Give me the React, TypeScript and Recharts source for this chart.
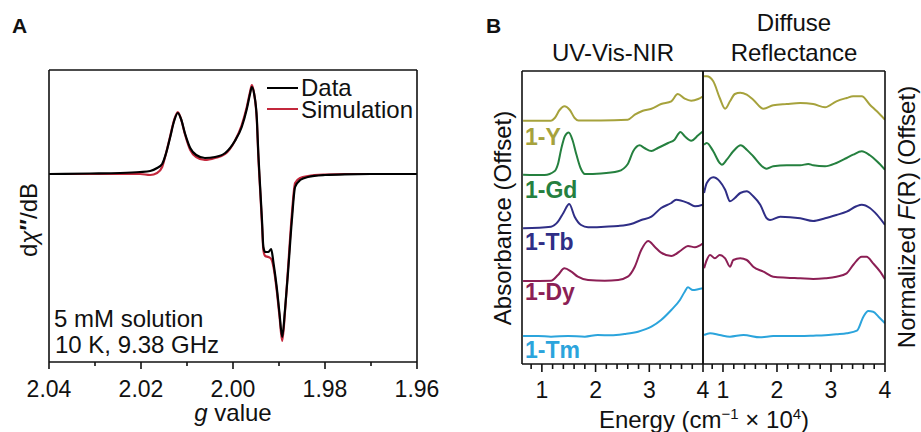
import React from "react";
import { LineChart, Line, XAxis, YAxis, Legend } from "recharts";

const FONT = '"Liberation Sans", Arial, Helvetica, sans-serif';
const INK = "#111";

// ---- panel A: EPR, dχ''/dB vs g value (axis runs 2.04 -> 1.96)
const gValues = [
  2.04, 2.0311, 2.0246, 2.0202, 2.018, 2.0165, 2.0154, 2.0146, 2.0137, 2.0128,
  2.012, 2.0113, 2.0104, 2.0093, 2.008, 2.0061, 2.0039, 2.0017, 1.9996, 1.9981,
  1.997, 1.9963, 1.9959, 1.9954, 1.9948, 1.9945, 1.9941, 1.9937, 1.9934, 1.993,
  1.9923, 1.9917, 1.9912, 1.9905, 1.9899, 1.9893, 1.9887, 1.988, 1.9872, 1.9865,
  1.9854, 1.9837, 1.98, 1.9757, 1.968, 1.96,
];
const eprData = [
  0, 0.5, 1, 2, 3, 6, 10, 20, 36, 53,
  61, 55, 40, 26, 19, 16, 17, 21, 33, 47,
  65, 80, 87, 80, 54, 21, -13, -46, -73, -78,
  -78, -75, -89, -113, -139, -163, -136, -96, -46, -13,
  -6, -3, -1, -0.3, 0, 0,
];
const eprSim = [
  0, 0, 0, 0, -1, 1, 7, 20, 37, 54,
  62, 55, 39, 24, 17, 14, 16, 20, 33, 49,
  67, 82, 89, 80, 52, 18, -16, -50, -76, -82,
  -83, -85, -93, -116, -142, -167, -138, -92, -40, -9,
  -4, -2, -0.5, 0, 0, 0,
];
const gTicks = [1.96, 1.98, 2.0, 2.02, 2.04];
const gMinor = [1.97, 1.99, 2.01, 2.03];

// ---- panel B: energy (cm-1 x 10^4), offset spectra [energy, value]
const energyTicks = [1, 2, 3, 4];
const energyMinor = [0.8, 1.2, 1.4, 1.6, 1.8, 2.2, 2.4, 2.6, 2.8, 3.2, 3.4, 3.6, 3.8];

const samples = ["1-Y", "1-Gd", "1-Tb", "1-Dy", "1-Tm"];
const sampleColors = ["#a6a23c", "#25803f", "#2f2e86", "#8c1f55", "#2ba4dc"];

const uvY = [[0.65, 243.3], [1.17, 243.3], [1.24, 246], [1.33, 254], [1.42, 257.7], [1.52, 254], [1.61, 246], [1.68, 243.5], [2.1, 243.5], [2.6, 244.3], [2.73, 249.3], [2.88, 253.3], [3.04, 255.3], [3.22, 260], [3.41, 262.7], [3.53, 270], [3.66, 265.3], [3.78, 263.3], [3.91, 265], [4.0, 267.7]];
const uvGd = [[0.65, 189.3], [1.05, 189], [1.24, 193], [1.3, 200], [1.36, 215], [1.43, 228], [1.5, 231.5], [1.57, 224], [1.64, 210], [1.72, 196], [1.8, 190], [2.1, 190.5], [2.42, 192.7], [2.6, 200], [2.7, 212.7], [2.82, 218.7], [2.91, 216], [3.04, 213], [3.16, 216], [3.35, 221], [3.47, 224.3], [3.58, 232], [3.66, 227.7], [3.78, 223.3], [3.91, 228.7], [4.0, 232.7]];
const uvTb = [[0.65, 135.7], [1.17, 137.3], [1.3, 142.3], [1.4, 151], [1.51, 160], [1.61, 147.3], [1.73, 139], [1.86, 136.7], [2.17, 137.3], [2.42, 138], [2.66, 140], [2.85, 144], [3.04, 147.3], [3.22, 156], [3.41, 161], [3.5, 164.3], [3.72, 161], [3.85, 157.7], [4.0, 159.3]];
const uvDy = [[0.65, 83], [1.17, 83.3], [1.3, 89], [1.42, 95.7], [1.55, 92.3], [1.67, 87.3], [1.86, 84], [2.17, 83.3], [2.42, 84], [2.6, 87.3], [2.73, 97.3], [2.85, 114], [2.98, 123], [3.1, 117.3], [3.22, 111.3], [3.41, 108], [3.6, 114], [3.72, 118], [3.85, 116.7], [4.0, 120.7]];
const uvTm = [[0.65, 28], [0.93, 28], [1.17, 27.3], [1.49, 28], [1.8, 27.3], [2.04, 29], [2.29, 28.7], [2.54, 30], [2.79, 32.3], [3.04, 37.3], [3.22, 44], [3.41, 54], [3.57, 64], [3.66, 72.3], [3.72, 76.7], [3.81, 74], [3.91, 74.7], [4.0, 75.7]];

const drY = [[0.65, 287.7], [0.7, 287.7], [0.82, 282.7], [0.94, 266], [1.04, 255.3], [1.13, 262.7], [1.22, 270], [1.32, 271.3], [1.44, 269.3], [1.56, 264.3], [1.75, 255.3], [1.93, 258.7], [2.18, 260], [2.43, 261], [2.67, 260], [2.89, 256.7], [3.1, 262.7], [3.29, 266], [3.41, 267.7], [3.57, 267.7], [3.72, 259.3], [3.85, 252.7], [4.0, 244.3]];
const drGd = [[0.65, 219.3], [0.7, 221], [0.82, 212.7], [0.94, 201], [0.98, 199.3], [1.07, 204.3], [1.19, 212.7], [1.33, 218.7], [1.44, 214.3], [1.56, 207.7], [1.75, 196.7], [1.81, 195.3], [1.93, 197.7], [2.18, 198.7], [2.43, 198.7], [2.58, 200], [2.67, 198.7], [2.89, 197.7], [3.1, 201], [3.29, 206], [3.41, 209.3], [3.57, 212.7], [3.72, 208.7], [3.85, 202.7], [4.0, 194.3]];
const drTb = [[0.65, 171], [0.7, 181], [0.82, 186.7], [0.94, 182.7], [1.04, 174.3], [1.13, 162.7], [1.22, 166], [1.32, 171], [1.44, 172.7], [1.56, 167.7], [1.69, 159.3], [1.81, 145.7], [1.87, 144], [2.06, 147.3], [2.43, 145.7], [2.67, 143], [2.89, 145.7], [3.1, 149], [3.29, 152.3], [3.47, 157.7], [3.57, 159.3], [3.72, 156], [3.85, 149.3], [4.0, 139]];
const drDy = [[0.65, 95.7], [0.7, 104], [0.76, 109], [0.85, 105.7], [0.94, 109], [1.04, 105.7], [1.13, 97.3], [1.19, 104], [1.32, 105.7], [1.44, 104], [1.56, 97.3], [1.75, 92.3], [1.93, 87.3], [2.18, 86.3], [2.43, 85.7], [2.67, 85], [2.89, 85.7], [3.1, 87.3], [3.29, 90.7], [3.41, 99], [3.57, 107.3], [3.66, 107.3], [3.78, 100.7], [3.91, 92.3], [4.0, 84.7]];
const drTm = [[0.65, 29], [0.76, 30.7], [0.94, 29], [1.13, 27.3], [1.38, 29], [1.69, 26.7], [1.93, 28], [2.18, 28], [2.43, 28], [2.67, 28.3], [2.89, 28.7], [3.1, 29.7], [3.29, 30.7], [3.48, 33.3], [3.6, 47.3], [3.69, 53], [3.78, 52.3], [3.88, 47.3], [4.0, 40.7]];

const uvSeries = [uvY, uvGd, uvTb, uvDy, uvTm];
const drSeries = [drY, drGd, drTb, drDy, drTm];
const labelBaselines = [145, 198, 250, 300, 358];

const toPts = (arr: number[][]) => arr.map(([e, v]) => ({ e, v }));

const eprRows = gValues.map((g, i) => ({ g, data: eprData[i], sim: eprSim[i] }));

const axisStroke = { stroke: INK, strokeWidth: 1.6 };

// one axis carries major + minor ticks; long ticks get a label
function AxisTick({ x, y, payload, majors, fmt, majorLen, minorLen, gap }: any) {
  const v = payload.value;
  const isMajor = majors.some((m: number) => Math.abs(m - v) < 1e-6);
  const len = isMajor ? majorLen : minorLen;
  return (
    <g>
      <line x1={x} x2={x} y1={y} y2={y + len} stroke={INK} strokeWidth={1.6} />
      {isMajor && (
        <text x={x} y={y + len + gap} dy="0.71em" textAnchor="middle" fontSize={23} fill={INK} fontFamily={FONT}>
          {fmt(v)}
        </text>
      )}
    </g>
  );
}

function EprLegend({ payload }: any) {
  const items = [...(payload || [])].sort((a: any) => (a.value === "Data" ? -1 : 1));
  return (
    <div style={{ fontFamily: FONT }}>
      {items.map((it: any) => (
        <div key={it.value} style={{ display: "flex", alignItems: "center", height: 21.5 }}>
          <span style={{ width: 31, height: 2, background: it.color, display: "inline-block" }} />
          <span style={{ fontSize: 24, lineHeight: "21.5px", marginLeft: 3, color: INK }}>{it.value}</span>
        </div>
      ))}
    </div>
  );
}

function EprPanel() {
  return (
    <div style={{ position: "absolute", left: 0, top: 0 }}>
      <LineChart width={460} height={432} data={eprRows} margin={{ top: 69, right: 42, bottom: 69, left: 48 }}>
        <XAxis dataKey="g" type="number" domain={[1.96, 2.04]} reversed allowDataOverflow
          ticks={[...gTicks, ...gMinor]} interval={0} height={1} tickSize={0} tickMargin={0}
          axisLine={axisStroke} tickLine={false}
          tick={<AxisTick majors={gTicks} fmt={(v: number) => v.toFixed(2)} majorLen={7} minorLen={4} gap={12} />} />
        <XAxis xAxisId="top" orientation="top" dataKey="g" type="number" domain={[1.96, 2.04]} reversed
          height={1} tick={false} tickLine={false} axisLine={axisStroke} />
        <YAxis domain={[-188, 104]} allowDataOverflow width={1} tick={false} tickLine={false} axisLine={axisStroke} />
        <YAxis yAxisId="right" orientation="right" domain={[-188, 104]} width={1} tick={false} tickLine={false} axisLine={axisStroke} />
        <Line name="Simulation" dataKey="sim" type="monotone" stroke="#c3283c" strokeWidth={2.2} dot={false} isAnimationActive={false} />
        <Line name="Data" dataKey="data" type="monotone" stroke="#000" strokeWidth={2.2} dot={false} isAnimationActive={false} />
        <Legend layout="vertical" align="center" verticalAlign="middle" content={<EprLegend />}
          wrapperStyle={{ left: 267, top: 77, width: 160 }} />
      </LineChart>
    </div>
  );
}

function SpectraPanel({ series, left, width, margin }: any) {
  return (
    <div style={{ position: "absolute", left, top: 0 }}>
      <LineChart width={width} height={432} margin={margin}>
        <XAxis dataKey="e" type="number" domain={[0.63, 4]} allowDataOverflow
          ticks={[...energyTicks, ...energyMinor]} interval={0} height={1} tickSize={0} tickMargin={0}
          axisLine={axisStroke} tickLine={false}
          tick={<AxisTick majors={energyTicks} fmt={(v: number) => String(v)} majorLen={8} minorLen={5} gap={10} />} />
        <XAxis xAxisId="top" orientation="top" dataKey="e" type="number" domain={[0.63, 4]}
          height={1} tick={false} tickLine={false} axisLine={axisStroke} />
        <YAxis domain={[0, 293]} allowDataOverflow width={1} tick={false} tickLine={false} axisLine={axisStroke} />
        <YAxis yAxisId="right" orientation="right" domain={[0, 293]} width={1} tick={false} tickLine={false} axisLine={axisStroke} />
        {series.map((s: number[][], i: number) => (
          <Line key={samples[i]} name={samples[i]} data={toPts(s)} dataKey="v" type="monotone"
            stroke={sampleColors[i]} strokeWidth={2} dot={false} isAnimationActive={false} />
        ))}
      </LineChart>
    </div>
  );
}

function Annotations() {
  const t = { fontFamily: FONT, fill: INK } as const;
  return (
    <svg width={921} height={432} style={{ position: "absolute", left: 0, top: 0, pointerEvents: "none" }}>
      <text x={12} y={33} fontSize={21} fontWeight="bold" {...t}>A</text>
      <text x={486} y={33} fontSize={21} fontWeight="bold" {...t}>B</text>

      <text x={233} y={421} fontSize={24} textAnchor="middle" {...t}>
        <tspan fontStyle="italic">g</tspan> value
      </text>
      <text x={37} y={220} fontSize={24} textAnchor="middle" transform="rotate(-90 37 220)" {...t}>
        d<tspan fontStyle="italic">χ</tspan><tspan fontWeight="bold">″</tspan>/dB
      </text>
      <text x={54} y={327} fontSize={24} {...t}>5 mM solution</text>
      <text x={55} y={353} fontSize={24} {...t}>10 K, 9.38 GHz</text>

      <text x={613} y={61} fontSize={24} textAnchor="middle" {...t}>UV-Vis-NIR</text>
      <text x={794} y={31} fontSize={24} textAnchor="middle" {...t}>Diffuse</text>
      <text x={794} y={61} fontSize={24} textAnchor="middle" {...t}>Reflectance</text>
      <text x={704} y={428} fontSize={24} textAnchor="middle" {...t}>
        Energy (cm<tspan dy={-9} fontSize={15}>−1</tspan><tspan dy={9}> × 10</tspan><tspan dy={-9} fontSize={15}>4</tspan><tspan dy={9}>)</tspan>
      </text>
      <text x={511} y={218} fontSize={24} textAnchor="middle" transform="rotate(-90 511 218)" {...t}>
        Absorbance (Offset)
      </text>
      <text x={915} y={217} fontSize={24} textAnchor="middle" transform="rotate(-90 915 217)" {...t}>
        Normalized <tspan fontStyle="italic">F</tspan>(R) (Offset)
      </text>

      {samples.map((s, i) => (
        <text key={s} x={525} y={labelBaselines[i]} fontSize={23} fontWeight="bold"
          fontFamily={FONT} fill={sampleColors[i]}>{s}</text>
      ))}
    </svg>
  );
}

export default function App() {
  return (
    <div style={{ position: "absolute", left: 0, top: 0, width: 921, height: 432, background: "#fff", overflow: "hidden", fontFamily: FONT }}>
      <EprPanel />
      <SpectraPanel series={uvSeries} left={460} width={280}
        margin={{ top: 70, right: 36, bottom: 67, left: 61 }} />
      <SpectraPanel series={drSeries} left={660} width={261}
        margin={{ top: 70, right: 35, bottom: 67, left: 42 }} />
      <Annotations />
    </div>
  );
}
